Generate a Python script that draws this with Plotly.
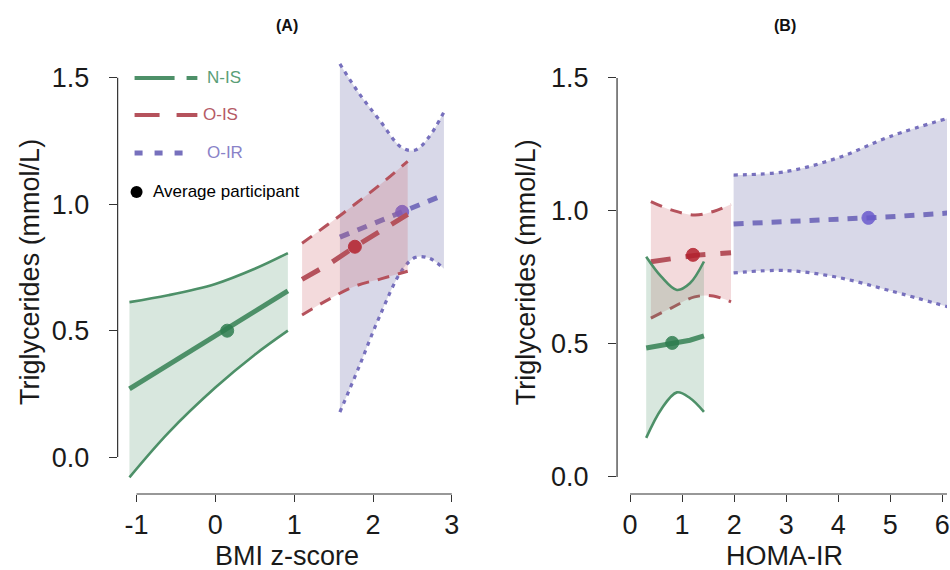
import plotly.graph_objects as go

W, H = 950, 570
FONT = "Liberation Sans, Arial, sans-serif"

# ---------------- data ----------------
# Panel A : BMI z-score
a_nis_x = [-1.09, -0.6, 0.0, 0.5, 0.92]
a_nis_fit = [0.27, 0.365, 0.48, 0.577, 0.657]
a_nis_lo = [-0.08, 0.095, 0.275, 0.405, 0.50]
a_nis_hi = [0.613, 0.64, 0.685, 0.745, 0.807]

a_ois_x = [1.10, 1.45, 1.77, 2.10, 2.44]
a_ois_fit = [0.703, 0.765, 0.832, 0.895, 0.96]
a_ois_lo = [0.562, 0.626, 0.676, 0.705, 0.735]
a_ois_hi = [0.846, 0.925, 1.0, 1.08, 1.17]

a_oir_x = [1.58, 1.82, 2.08, 2.37, 2.54, 2.71, 2.90]
a_oir_fit = [0.87, 0.90, 0.934, 0.97, 0.992, 1.013, 1.037]
a_oir_lo = [0.178, 0.355, 0.554, 0.74, 0.79, 0.787, 0.745]
a_oir_hi = [1.555, 1.44, 1.334, 1.223, 1.215, 1.266, 1.365]

a_avg_x = [0.15, 1.77, 2.37]      # N-IS, O-IS, O-IR
a_avg_y = [0.50, 0.832, 0.97]

# Panel B : HOMA-IR
b_nis_x = [0.31, 0.60, 0.90, 1.15, 1.42]
b_nis_fit = [0.485, 0.495, 0.505, 0.514, 0.53]
b_nis_lo = [0.147, 0.255, 0.318, 0.297, 0.245]
b_nis_hi = [0.828, 0.753, 0.703, 0.728, 0.81]

b_ois_x = [0.40, 0.79, 1.24, 1.60, 1.94]
b_ois_fit = [0.809, 0.82, 0.833, 0.838, 0.843]
b_ois_lo = [0.597, 0.635, 0.677, 0.68, 0.658]
b_ois_hi = [1.035, 1.004, 0.985, 0.998, 1.025]

b_oir_x = [1.99, 3.0, 4.0, 5.0, 6.1]
b_oir_fit = [0.951, 0.96, 0.968, 0.978, 0.992]
b_oir_lo = [0.767, 0.776, 0.75, 0.70, 0.64]
b_oir_hi = [1.135, 1.148, 1.2, 1.28, 1.348]

b_avg_x = [0.81, 1.21, 4.58]
b_avg_y = [0.504, 0.835, 0.974]

a_xticks = [-1, 0, 1, 2, 3]
b_xticks = [0, 1, 2, 3, 4, 5, 6]
yticks = [0.0, 0.5, 1.0, 1.5]
ytick_text = ["0.0", "0.5", "1.0", "1.5"]

group_names = ["N-IS", "O-IS", "O-IR"]

# ---------------- styles ----------------
STY = {
    "N-IS": dict(line="#4d9068", fill="rgba(77,144,104,0.22)", pt="#2e7d4f",
                 fit_dash="solid", ci_dash="solid", ci_w=2.6, fit_w=5, text="#5a9e77"),
    "O-IS": dict(line="#b5525c", fill="rgba(205,100,110,0.24)", pt="#b3202c",
                 fit_dash="20px,15px", ci_dash="12px,9px", ci_w=3, fit_w=5, text="#b55a66"),
    "O-IR": dict(line="#7770bd", fill="rgba(110,110,170,0.27)", pt="#6a5acd",
                 fit_dash="10px,9px", ci_dash="4px,5px", ci_w=3.2, fit_w=5, text="#8a82c8"),
}

fig = go.Figure()


def add_group(name, xs, fit, lo, hi, px, py, xa, ya):
    s = STY[name]
    common = dict(xaxis=xa, yaxis=ya, showlegend=False, hoverinfo="skip", mode="lines")
    fig.add_trace(go.Scatter(x=xs, y=lo, line=dict(width=0, shape="spline"), **common))
    fig.add_trace(go.Scatter(x=xs, y=hi, line=dict(width=0, shape="spline"),
                             fill="tonexty", fillcolor=s["fill"], **common))
    for yy in (hi, lo):
        fig.add_trace(go.Scatter(x=xs, y=yy, line=dict(color=s["line"], width=s["ci_w"],
                                                         dash=s["ci_dash"], shape="spline"), **common))
    fig.add_trace(go.Scatter(x=xs, y=fit, line=dict(color=s["line"], width=s["fit_w"],
                                                      dash=s["fit_dash"]), **common))
    fig.add_trace(go.Scatter(x=[px], y=[py], mode="markers", xaxis=xa, yaxis=ya,
                             showlegend=False, hoverinfo="skip",
                             marker=dict(size=13, color=s["pt"], opacity=0.85,
                                         line=dict(width=1, color=s["pt"]))))


# draw order: O-IR, O-IS, N-IS
add_group("O-IR", a_oir_x, a_oir_fit, a_oir_lo, a_oir_hi, a_avg_x[2], a_avg_y[2], "x", "y")
add_group("O-IS", a_ois_x, a_ois_fit, a_ois_lo, a_ois_hi, a_avg_x[1], a_avg_y[1], "x", "y")
add_group("N-IS", a_nis_x, a_nis_fit, a_nis_lo, a_nis_hi, a_avg_x[0], a_avg_y[0], "x", "y")
add_group("O-IR", b_oir_x, b_oir_fit, b_oir_lo, b_oir_hi, b_avg_x[2], b_avg_y[2], "x2", "y2")
add_group("O-IS", b_ois_x, b_ois_fit, b_ois_lo, b_ois_hi, b_avg_x[1], b_avg_y[1], "x2", "y2")
add_group("N-IS", b_nis_x, b_nis_fit, b_nis_lo, b_nis_hi, b_avg_x[0], b_avg_y[0], "x2", "y2")


def X(p):
    return p / W


def Y(p):
    return 1 - p / H


AX = "#333333"
TICKFONT = dict(family=FONT, size=27, color="#1a1a1a")
A_XR = [-1.24, 3.06]
A_YR = [-0.146, 1.626]
B_XR = [-0.25, 6.09]
B_YR = [-0.064, 1.62]

axis_common = dict(showgrid=False, zeroline=False, showline=False, ticks="outside",
                   tickcolor=AX, tickwidth=1, tickfont=TICKFONT, ticklabeloverflow="allow")

fig.update_layout(
    width=W, height=H,
    margin=dict(l=0, r=0, t=0, b=0),
    paper_bgcolor="white", plot_bgcolor="rgba(0,0,0,0)",
    showlegend=False,
    font=dict(family=FONT),
    xaxis=dict(domain=[X(118), X(458)], range=A_XR, anchor="y", tickvals=a_xticks,
               ticktext=[str(v) for v in a_xticks], ticklen=7, **axis_common),
    yaxis=dict(domain=[Y(494), Y(46)], range=A_YR, anchor="x", tickvals=yticks,
               ticktext=ytick_text, ticklen=8, ticklabelstandoff=14, **axis_common),
    xaxis2=dict(domain=[X(619), 1.0], range=B_XR, anchor="y2", tickvals=b_xticks,
                ticktext=[str(v) for v in b_xticks], ticklen=7, **axis_common),
    yaxis2=dict(domain=[Y(494), Y(46)], range=B_YR, anchor="x2", tickvals=yticks,
                ticktext=ytick_text, ticklen=8, ticklabelstandoff=14, **axis_common),
)

# R-style axis lines (span first..last tick)
line = dict(color=AX, width=1.2)
fig.add_shape(type="line", xref="x", yref="y domain", x0=a_xticks[0], x1=a_xticks[-1], y0=0, y1=0, line=line)
fig.add_shape(type="line", xref="x domain", yref="y", x0=0, x1=0, y0=yticks[0], y1=yticks[-1], line=line)
fig.add_shape(type="line", xref="x2", yref="y2 domain", x0=b_xticks[0], x1=B_XR[1], y0=0, y1=0, line=line)
fig.add_shape(type="line", xref="x2 domain", yref="y2", x0=0, x1=0, y0=yticks[0], y1=yticks[-1], line=line)

TITLE = dict(family=FONT, size=27, color="#1a1a1a")
ann = [
    dict(text="<b>(A)</b>", x=X(288), y=Y(25), font=dict(family=FONT, size=16, color="#111")),
    dict(text="<b>(B)</b>", x=X(787), y=Y(25), font=dict(family=FONT, size=16, color="#111")),
    dict(text="Triglycerides (mmol/L)", x=X(30), y=Y(272), textangle=-90, font=TITLE),
    dict(text="Triglycerides (mmol/L)", x=X(528), y=Y(272), textangle=-90, font=TITLE),
    dict(text="BMI z-score", x=X(288), y=Y(556), font=TITLE),
    dict(text="HOMA-IR", x=X(787), y=Y(556), font=TITLE),
]
for a in ann:
    fig.add_annotation(xref="paper", yref="paper", showarrow=False,
                       xanchor="center", yanchor="middle", **a)

# legend (panel A, top-left)
leg_rows = [
    ("N-IS", 78, 135, 198, "40px,12px,11px,100px", 4, 206),
    ("O-IS", 115, 135, 198, "25px,17px,21px,100px", 4, 202),
    ("O-IR", 153, 135, 186, "8px,12px", 5, 206),
]
for name, py, x0, x1, dash, w, tx in leg_rows:
    s = STY[name]
    fig.add_shape(type="line", xref="paper", yref="paper", x0=X(x0), x1=X(x1), y0=Y(py), y1=Y(py),
                  line=dict(color=s["line"], width=w, dash=dash))
    fig.add_annotation(xref="paper", yref="paper", x=X(tx), y=Y(py), text=name, showarrow=False,
                       xanchor="left", yanchor="middle",
                       font=dict(family=FONT, size=17, color=s["text"]))
fig.add_shape(type="circle", xref="paper", yref="paper", x0=X(131), x1=X(143), y0=Y(198), y1=Y(186),
              fillcolor="black", line=dict(color="black", width=0))
fig.add_annotation(xref="paper", yref="paper", x=X(151), y=Y(192), text="Average participant",
                   showarrow=False, xanchor="left", yanchor="middle",
                   font=dict(family=FONT, size=17, color="black"))

fig.write_html("out.html", config={"displayModeBar": False},
               post_script="document.body.style.margin='0';document.body.style.overflow='hidden';")
